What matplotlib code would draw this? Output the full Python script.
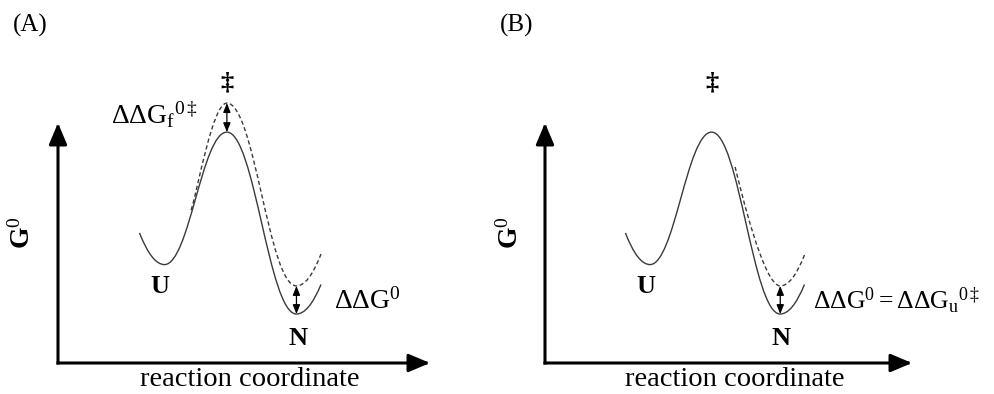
import matplotlib
matplotlib.use("Agg")
import matplotlib.pyplot as plt
from matplotlib.path import Path
from matplotlib.patches import PathPatch

plt.rcParams["font.family"] = ["Liberation Serif", "DejaVu Serif"]
plt.rcParams["mathtext.fontset"] = "custom"
plt.rcParams["mathtext.rm"] = "Liberation Serif"
plt.rcParams["mathtext.it"] = "Liberation Serif:italic"
plt.rcParams["mathtext.bf"] = "Liberation Serif:bold"

# Free-energy landscape: (reaction coordinate, G) of the stationary points,
# plus the two open ends of the curve. Axis spans 0..100 on both scales.
wall_left = (21.9, 54.2)
state_U = (28.6, 41.0)
state_TS = (45.4, 96.2)
state_N = (64.1, 20.4)
wall_right = (70.7, 32.7)

# Mutant (dashed) landscape, panel A: transition state and native state both raised
mutA_branch = (35.8, 63.7)
mutA_TS = (45.4, 108.3)
mutA_N = (64.1, 32.1)
mutA_wall = (70.7, 45.4)

# Mutant (dashed) landscape, panel B: only the native state raised
mutB_branch = (51.8, 81.7)
mutB_N = (64.1, 32.1)
mutB_wall = (70.7, 45.0)

panel_labels = ["(A)", "(B)"]
x_label = "reaction coordinate"
y_label = r"$\mathbf{G}^{0}$"
label_A = r"$\Delta\Delta\mathrm{G_f}^{0\ddagger}$"
label_dG_A = r"$\Delta\Delta\mathrm{G}^{0}$"
label_dG_B = r"$\Delta\Delta\mathrm{G}^{0} = \Delta\Delta\mathrm{G_u}^{0\ddagger}$"

K = 0.4
LINE = "#3a3a3a"


def hump(p0, p1):
    dx = p1[0] - p0[0]
    return [(p0[0] + K * dx, p0[1]), (p1[0] - K * dx, p1[1]), p1]


def well_wall(p_min, p_end):
    return [((p_min[0] + p_end[0]) / 2, p_min[1]), p_end]


def solid_path():
    verts = [wall_left, ((wall_left[0] + state_U[0]) / 2, state_U[1]), state_U]
    codes = [Path.MOVETO, Path.CURVE3, Path.CURVE3]
    verts += hump(state_U, state_TS)
    codes += [Path.CURVE4] * 3
    verts += hump(state_TS, state_N)
    codes += [Path.CURVE4] * 3
    verts += well_wall(state_N, wall_right)
    codes += [Path.CURVE3] * 2
    return Path(verts, codes)


def dashed_path_A():
    b = mutA_branch
    verts = [b, (b[0] + 2.0, b[1] + 10.3), (mutA_TS[0] - 3.8, mutA_TS[1]), mutA_TS]
    codes = [Path.MOVETO, Path.CURVE4, Path.CURVE4, Path.CURVE4]
    verts += hump(mutA_TS, mutA_N)
    codes += [Path.CURVE4] * 3
    verts += well_wall(mutA_N, mutA_wall)
    codes += [Path.CURVE3] * 2
    return Path(verts, codes)


def dashed_path_B():
    b = mutB_branch
    verts = [b, (b[0] + 1.6, b[1] - 10.0), (mutB_N[0] - 4.5, mutB_N[1]), mutB_N]
    codes = [Path.MOVETO, Path.CURVE4, Path.CURVE4, Path.CURVE4]
    verts += well_wall(mutB_N, mutB_wall)
    codes += [Path.CURVE3] * 2
    return Path(verts, codes)


def axis_arrows(ax):
    style = "-|>,head_length=1.3,head_width=0.55"
    for tip in [(100, 0), (0, 100)]:
        ax.annotate("", xy=tip, xytext=(0, 0),
                    arrowprops=dict(arrowstyle=style, color="black", lw=2.2,
                                    shrinkA=0, shrinkB=0, mutation_scale=10,
                                    capstyle="projecting"),
                    annotation_clip=False)


def gap_arrow(ax, x, y0, y1):
    ax.annotate("", xy=(x, y1), xytext=(x, y0),
                arrowprops=dict(arrowstyle="<|-|>,head_length=0.55,head_width=0.22",
                                color="black", lw=0.9, shrinkA=0, shrinkB=0,
                                mutation_scale=10),
                annotation_clip=False)


fig = plt.figure(figsize=(9.95, 3.94), dpi=100)
W, H = 995.0, 394.0

# panel frames: origin pixel and arrow tips
frames = [(58, 363, 430, 123), (545, 363, 912, 123)]
axes = []
for (ox, oy, tx, ty) in frames:
    ax = fig.add_axes([ox / W, (H - oy) / H, (tx - ox) / W, (oy - ty) / H])
    ax.set_xlim(0, 100)
    ax.set_ylim(0, 100)
    ax.axis("off")
    axes.append(ax)

for ax, lab, (ox, oy, tx, ty) in zip(axes, panel_labels, frames):
    axis_arrows(ax)
    ax.add_patch(PathPatch(solid_path(), fill=False, ec=LINE, lw=1.0, clip_on=False))
    ax.text(state_TS[0], 116.7, "‡", ha="center", va="center", fontsize=19,
            fontweight="bold")
    ax.text(state_U[0] - 1.2, 31.7, "U", ha="center", va="center", fontsize=19,
            fontweight="bold")
    ax.text(state_N[0] + 0.3, 10.4, "N", ha="center", va="center", fontsize=19,
            fontweight="bold")
    fig.text((ox + 0.516 * (tx - ox)) / W, 1.5 / H, x_label, ha="center",
             va="bottom", fontsize=20.5)
    ax.text(-9.5, 54.2, y_label, ha="center", va="center", rotation=90,
            fontsize=20)
    fig.text((ox - 45) / W, 1 - 25 / H, lab, ha="left", va="center", fontsize=18)

axA, axB = axes
axA.add_patch(PathPatch(dashed_path_A(), fill=False, ec=LINE, lw=1.0,
                        ls=(0, (3, 2)), clip_on=False))
gap_arrow(axA, state_TS[0], state_TS[1], mutA_TS[1])
gap_arrow(axA, state_N[0], state_N[1], mutA_N[1])
axA.text(37.6, 99.6, label_A, ha="right", va="baseline", fontsize=20)
axA.text(74.3, 22.5, label_dG_A, ha="left", va="baseline", fontsize=20)

axB.add_patch(PathPatch(dashed_path_B(), fill=False, ec=LINE, lw=1.0,
                        ls=(0, (3, 2)), clip_on=False))
gap_arrow(axB, state_N[0], state_N[1], mutB_N[1])
axB.text(73.0, 22.5, label_dG_B, ha="left", va="baseline", fontsize=18.5)

fig.savefig("out.png", dpi=100)
